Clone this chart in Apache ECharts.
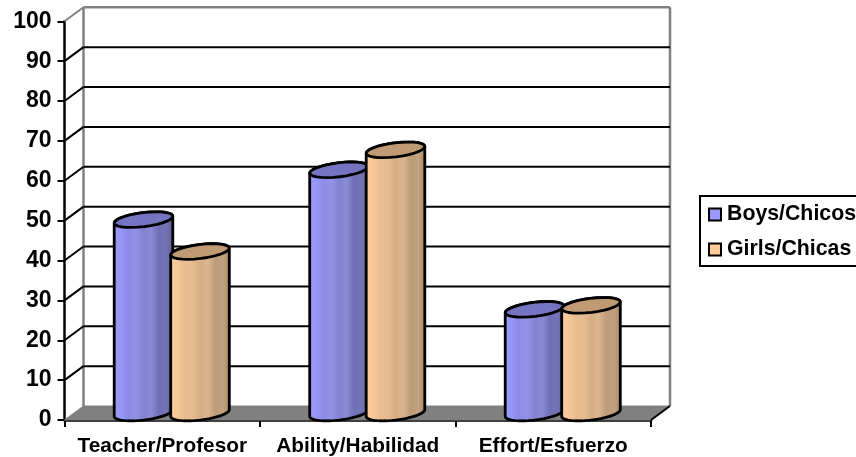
<!DOCTYPE html>
<html><head><meta charset="utf-8">
<style>html,body{margin:0;padding:0;background:#fff;overflow:hidden}#c{width:856px;height:457px}</style>
<script src="https://cdn.jsdelivr.net/npm/echarts@6/dist/echarts.min.js"></script>
</head><body><div id="c"></div>
<script>
const categories = ['Teacher/Profesor','Ability/Habilidad','Effort/Esfuerzo'];
const boys = [48.5, 61, 26];
const girls = [40.5, 66, 27];
const yTicks = [0,10,20,30,40,50,60,70,80,90,100];
const FONT = '"Liberation Sans", Arial, sans-serif';
const DX = 19, DY = -14;
const EA = 29.5, EB = 7, TH = -7 * Math.PI / 180;

function ellipsePts(cx, cy, from, to) {
  const n = 28, pts = [];
  for (let i = 0; i <= n; i++) {
    const t = from + (to - from) * i / n;
    pts.push([cx + EA*Math.cos(t)*Math.cos(TH) - EB*Math.sin(t)*Math.sin(TH),
              cy + EA*Math.cos(t)*Math.sin(TH) + EB*Math.sin(t)*Math.cos(TH)]);
  }
  return pts;
}
function cylinder(colors, topColor, side) {
  return function (params, api) {
    const i = api.value(0), v = api.value(1);
    const band = api.size([1, 0])[0];
    const base = api.coord([i, 0]), top = api.coord([i, v]);
    const cx = base[0] + DX/2 + side * band * 0.1445;
    const by = base[1] + DY/2, ty = top[1] + DY/2;
    const t0 = Math.atan2(-EB*Math.sin(TH), EA*Math.cos(TH));
    const outline = ellipsePts(cx, by, t0, t0 + Math.PI).concat(ellipsePts(cx, ty, t0 + Math.PI, t0 + 2*Math.PI));
    const cap = ellipsePts(cx, ty, 0, 2*Math.PI);
    const stops = colors.map((c, k) => ({offset: k/(colors.length-1), color: c}));
    return {type:'group', children:[
      {type:'polygon', shape:{points:outline},
       style:{fill:new echarts.graphic.LinearGradient(0,0,1,0,stops), stroke:'#000', lineWidth:2.8, lineJoin:'round'}},
      {type:'polygon', shape:{points:cap},
       style:{fill:topColor, stroke:'#000', lineWidth:2.8, lineJoin:'round'}}
    ]};
  };
}
function wall(params, api) {
  const v = api.value(1);
  const p = api.coord([0, v]);
  const band = api.size([1, 0])[0];
  const xl = p[0] - band/2, xr = xl + band*categories.length;
  const y = p[1];
  const top = api.coord([0, yTicks[yTicks.length-1]])[1];
  const bottom = api.coord([0, 0])[1];
  const grey = '#808080';
  if (v === 0) {
    return {type:'group', children:[
      {type:'polygon', shape:{points:[[xl,y],[xr,y],[xr+DX,y+DY],[xl+DX,y+DY]]}, style:{fill:grey, stroke:grey, lineWidth:1}},
      {type:'line', shape:{x1:xl+DX,y1:top+DY,x2:xl+DX,y2:bottom+DY}, style:{stroke:grey, lineWidth:2.5}},
      {type:'line', shape:{x1:xr+DX,y1:top+DY,x2:xr+DX,y2:bottom+DY}, style:{stroke:grey, lineWidth:2.5}},
      {type:'line', shape:{x1:xr,y1:y,x2:xr+DX,y2:y+DY}, style:{stroke:'#000', lineWidth:2}}
    ]};
  }
  const c = v === 100 ? grey : '#000';
  return {type:'group', children:[
    {type:'line', shape:{x1:xl,y1:y,x2:xl+DX,y2:y+DY}, style:{stroke:c, lineWidth:2}},
    {type:'line', shape:{x1:xl+DX,y1:y+DY,x2:xr+DX,y2:y+DY}, style:{stroke:c, lineWidth:v===100?2.5:2}}
  ]};
}
const boysRamp = ['#9c9cff','#9696f6','#8c8ce8','#9292e6','#8282d2','#8a8ad2','#6f6fb8','#7474b4','#5a5a9a'];
const girlsRamp = ['#ffcf9f','#f8c898','#eabd90','#e8bd92','#d6ad84','#dab690','#bd9c78','#c2a37f','#a08360'];
const chart = echarts.init(document.getElementById('c'), null, {renderer:'canvas'});
chart.setOption({
  animation:false,
  backgroundColor:'#fff',
  grid:{left:64.5, right:205, top:21.3, bottom:37, containLabel:false},
  legend:{
    orient:'vertical', left:700, top:196, padding:[8,20,6,8], itemGap:14,
    itemWidth:12, itemHeight:12, icon:'rect', selectedMode:false,
    borderColor:'#000', borderWidth:2, backgroundColor:'#fff',
    textStyle:{fontFamily:FONT, fontWeight:'bold', fontSize:21.3, color:'#000', padding:[0,0,0,1]},
    data:[
      {name:'Boys/Chicos', itemStyle:{color:'#9999ff', borderColor:'#000', borderWidth:2}},
      {name:'Girls/Chicas', itemStyle:{color:'#ffcc99', borderColor:'#000', borderWidth:2}}
    ]
  },
  xAxis:{type:'category', data:categories,
    axisLine:{lineStyle:{color:'#000', width:2.5}},
    axisTick:{show:true, length:7, lineStyle:{color:'#000', width:2}},
    axisLabel:{interval:0, margin:16, color:'#000', fontFamily:FONT, fontWeight:'bold', fontSize:20.8}},
  yAxis:{type:'value', min:0, max:100, interval:10,
    splitLine:{show:false},
    axisLine:{show:true, lineStyle:{color:'#000', width:2.5}},
    axisTick:{show:true, length:7, lineStyle:{color:'#000', width:2}},
    axisLabel:{margin:13, color:'#000', fontFamily:FONT, fontWeight:'bold', fontSize:23, padding:[6,0,0,0]}},
  series:[
    {type:'custom', name:'wall', silent:true, clip:false, z:1, renderItem:wall, encode:{x:0,y:1},
     data:yTicks.map(v=>[0,v])},
    {type:'custom', name:'Boys/Chicos', clip:false, z:2, renderItem:cylinder(boysRamp,'#7474c2',-1),
     encode:{x:0,y:1}, itemStyle:{color:'#9999ff'}, data:boys.map((v,i)=>[i,v])},
    {type:'custom', name:'Girls/Chicas', clip:false, z:3, renderItem:cylinder(girlsRamp,'#bf9a73',1),
     encode:{x:0,y:1}, itemStyle:{color:'#ffcc99'}, data:girls.map((v,i)=>[i,v])}
  ]
});
</script></body></html>
